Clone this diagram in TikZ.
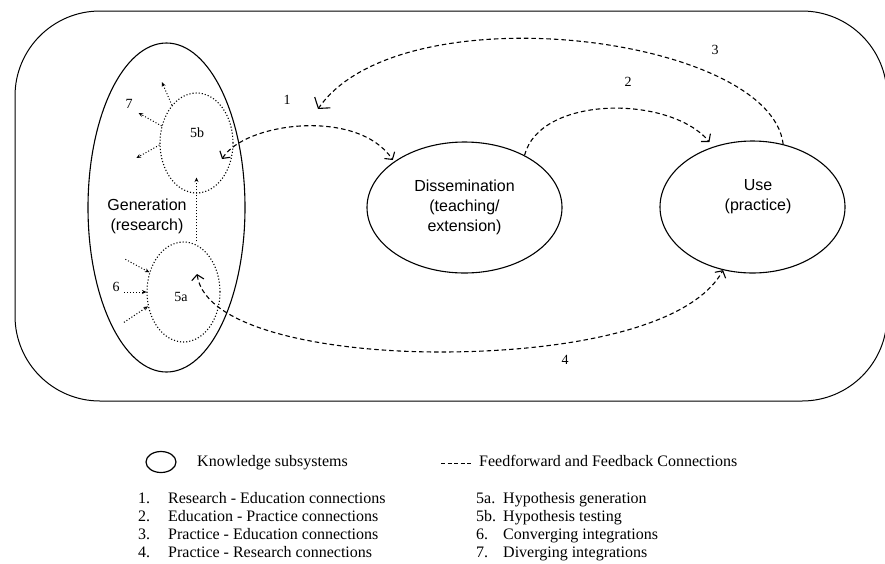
\documentclass[tikz,border=0pt]{standalone}
\usepackage{fontspec}
\setmainfont{Liberation Serif}
\setsansfont{Liberation Sans}
\usetikzlibrary{shapes.geometric,arrows.meta,calc}
\begin{document}
\begin{tikzpicture}[x=1pt,y=-1pt,
  sub/.style={ellipse, draw, line width=1.1pt, inner sep=0pt},
  subsub/.style={ellipse, draw, dotted, line width=1.1pt, inner sep=0pt,
     minimum width=73pt, minimum height=100pt},
  conn/.style={line width=1.1pt, dash pattern=on 4.5pt off 3pt},
  barb/.tip={Straight Barb[angle=100:8pt, line width=1.1pt]},
  bigbarb/.tip={Straight Barb[angle=105:12pt, line width=1.1pt]},
  dotarr/.style={dotted, line width=1pt, -{Stealth[length=4.5pt,width=4pt]}},
  numlbl/.style={font=\fontsize{14}{16}\selectfont, inner sep=0pt},
  sanslbl/.style={font=\sffamily\fontsize{16}{20}\selectfont, align=center, inner sep=0pt},
  legtxt/.style={font=\fontsize{16}{18}\selectfont, anchor=base west, inner sep=0pt}]
\useasboundingbox (0,0) rectangle (885,563);
\clip (0,0) rectangle (885,563);

% outer frame
\draw[line width=1pt, rounded corners=85pt] (15,11) rectangle (887,401);

% knowledge subsystems
\node[sub, minimum width=157pt, minimum height=329pt] (gen) at (166.5,207.5) {};
\node[sanslbl] (gentext) at (147,216) {Generation\\(research)};
\node[sub, minimum width=195pt, minimum height=131pt, sanslbl] (diss) at (464.5,207.5)
   {Dissemination\\(teaching/\\extension)};
\node[sub, minimum width=185pt, minimum height=132pt] (use) at (752.5,207) {};
\node[sanslbl] (usetext) at (758,197) {Use\\(practice)};

% hypothesis circles
\node[subsub] (b5) at (196.5,143) {};
\node[subsub] (a5) at (183.5,292) {};
\node[numlbl] (l5b) at (197,133) {5b};
\node[numlbl] (l5a) at (181,297) {5a};

% 5a -> 5b
\draw[dotarr] (b5.center |- a5.north) -- ($(b5.south)+(0,-16)$);

% converging integrations (6)
\node[numlbl] (l6) at (116,287) {6};
\draw[dotarr] ($(a5.150)+(-24,-13)$) -- (a5.150);
\draw[dotarr] ($(a5.180)+(-22,0)$) -- (a5.180);
\draw[dotarr] ($(a5.202)+(-24,16)$) -- (a5.202);

% diverging integrations (7)
\node[numlbl] (l7) at (129,104) {7};
\draw[dotarr] (b5.123) -- ++(-10,-23);
\draw[dotarr] (b5.154) -- ++(-23,-13);
\draw[dotarr] (b5.183) -- ++(-23,13);

% connection end points inside subsystems
\coordinate (t1) at (222,159);
\coordinate (t3) at (318,109);
\coordinate (t4) at (197,274);

% 1: research - education
\draw[conn, barb-barb, shorten >=2pt] (t1) .. controls (245,122) and (358,108) .. (diss.147);
\node[numlbl] (n1) at (287,100) {1};
% 2: education - practice
\draw[conn, -barb, shorten >=6pt] (diss.41) .. controls (540,95) and (670,95) .. (use.123);
\node[numlbl] (n2) at (628,82) {2};
% 3: practice - education
\draw[conn, -bigbarb] (use.64) .. controls (770,35) and (400,-10) .. (t3);
\node[numlbl] (n3) at (715,50) {3};
% 4: practice - research
\draw[conn, barb-barb] (t4) .. controls (205,330) and (330,352) .. (440,352)
   .. controls (560,352) and (690,330) .. (use.245);
\node[numlbl] (n4) at (565,360) {4};

% legend
\node[ellipse, draw, line width=1.2pt, minimum width=30pt, minimum height=21pt, inner sep=0pt] (legc) at (161,462) {};
\node[legtxt] (legk) at (197,466) {Knowledge subsystems};
\coordinate (legd1) at (441,463);
\coordinate (legd2) at (473,463);
\draw[line width=1pt, dash pattern=on 4pt off 2.5pt] (legd1) -- (legd2);
\node[legtxt] (legf) at (479,466) {Feedforward and Feedback Connections};

\node[legtxt] (i1n) at (138,503) {1.};
\node[legtxt] (i1t) at (168,503) {Research - Education connections};
\node[legtxt] (i2n) at (138,521) {2.};
\node[legtxt] (i2t) at (168,521) {Education - Practice connections};
\node[legtxt] (i3n) at (138,539) {3.};
\node[legtxt] (i3t) at (168,539) {Practice - Education connections};
\node[legtxt] (i4n) at (138,557) {4.};
\node[legtxt] (i4t) at (168,557) {Practice - Research connections};

\node[legtxt] (j1n) at (476,503) {5a.};
\node[legtxt] (j1t) at (503,503) {Hypothesis generation};
\node[legtxt] (j2n) at (476,521) {5b.};
\node[legtxt] (j2t) at (503,521) {Hypothesis testing};
\node[legtxt] (j3n) at (476,539) {6.};
\node[legtxt] (j3t) at (503,539) {Converging integrations};
\node[legtxt] (j4n) at (476,557) {7.};
\node[legtxt] (j4t) at (503,557) {Diverging integrations};
\end{tikzpicture}
\end{document}
